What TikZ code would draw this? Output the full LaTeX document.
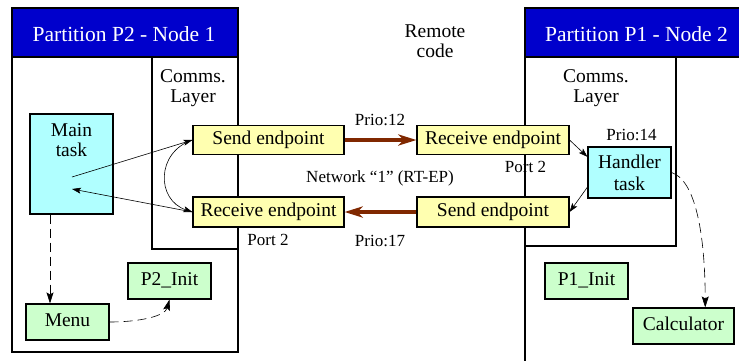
\documentclass[tikz,border=0pt]{standalone}
\usepackage{fontspec}
\setmainfont{Liberation Serif}
\usetikzlibrary{arrows.meta,calc}
\definecolor{hdrblue}{RGB}{0,0,204}
\definecolor{cyanfill}{RGB}{176,255,255}
\definecolor{yellowfill}{RGB}{255,255,176}
\definecolor{greenfill}{RGB}{204,255,204}
\definecolor{netbrown}{RGB}{128,40,0}
\begin{document}
\begin{tikzpicture}[x=1pt,y=-1pt,
  frame/.style={draw, line width=1.2pt},
  box/.style={draw, line width=1.1pt, inner sep=0pt, text height=12.5pt, text depth=4.5pt, font=\fontsize{19.5}{21}\selectfont},
  epbox/.style={box, fill=yellowfill, minimum width=151pt, minimum height=29pt},
  greenbox/.style={box, fill=greenfill, minimum height=36pt},
  cyanbox/.style={draw, line width=1.1pt, fill=cyanfill, inner sep=0pt, align=center, font=\fontsize{19.5}{22}\selectfont},
  small/.style={font=\fontsize{17}{19}\selectfont, inner sep=0pt, anchor=base},
  big/.style={font=\fontsize{19.5}{20}\selectfont, align=center, inner sep=0pt},
  hdr/.style={font=\fontsize{21.5}{23}\selectfont, text=white, inner sep=0pt, anchor=base},
  conn/.style={line width=0.6pt, -{Stealth[length=9pt,width=6pt,inset=2pt]}},
  dconn/.style={line width=0.6pt, dash pattern=on 9pt off 5pt, -{Stealth[length=11pt,width=7pt,inset=2pt]}},
  net/.style={line width=4pt, draw=netbrown, -{Stealth[length=18pt,width=11pt,inset=5pt]}}]
\useasboundingbox (0,0) rectangle (739,360);
\clip (0,0) rectangle (739,360);
% left partition
\draw[frame] (12,8) rectangle (238,352);
\draw[frame, fill=hdrblue] (12,8) rectangle (238,57);
\draw[frame] (152,57) rectangle (238,249);
\node[hdr] (hdrL) at (124,41.7) {Partition P2 - Node 1};
\node[big] (commsL) at (193,88) {Comms.\\Layer};
% right partition
\draw[frame] (525,8) rectangle (760,380);
\draw[frame, fill=hdrblue] (525,8) rectangle (760,57);
\draw[frame] (525,57) rectangle (676,246);
\node[hdr] (hdrR) at (636.5,41.7) {Partition P1 - Node 2};
\node[big] (commsR) at (596,88) {Comms.\\Layer};
% remote code
\node[big] (remote) at (435,41) {Remote\\code};
% boxes
\node[cyanbox, minimum width=83pt, minimum height=100pt] (main) at (71.5,164) {};
\node[big] (maintxt) at (71.5,140) {Main\\task};
\node[epbox] (sendL) at (268.5,140) {Send endpoint};
\node[epbox, minimum height=30pt] (recvL) at (268.5,212) {Receive endpoint};
\node[epbox, minimum width=152pt] (recvR) at (493,140) {Receive endpoint};
\node[epbox, minimum width=152pt, minimum height=30pt] (sendR) at (493,212) {Send endpoint};
\node[cyanbox, minimum width=83pt, minimum height=51pt] (handler) at (629.5,172.5) {Handler\\task};
\node[greenbox, minimum width=83pt] (menu) at (67.5,322) {Menu};
\node[greenbox, minimum width=83pt] (p2init) at (169.5,281) {P2\_Init};
\node[greenbox, minimum width=83pt] (p1init) at (586.5,281) {P1\_Init};
\node[greenbox, minimum width=101pt] (calc) at (683.5,326) {Calculator};
% small labels
\node[small] (prio12) at (380,125) {Prio:12};
\node[small] (network) at (380,182) {Network “1” (RT-EP)};
\node[small] (prio17) at (380,246) {Prio:17};
\node[small] (portL) at (268,245) {Port 2};
\node[small] (portR) at (525.5,172) {Port 2};
\node[small] (prio14) at (631.5,140) {Prio:14};
% connectors
\coordinate (mainout) at (72,177);
\coordinate (mainin) at (72,189);
\coordinate (mx) at (50,0);
\draw[conn] (mainout) -- (sendL.west);
\draw[conn] (recvL.west) -- (mainin);
\draw[conn] (sendL.west) .. controls (156,152) and (156,200) .. (recvL.west);
\draw[net] (sendL.east) -- (recvR.west);
\draw[net] (sendR.west) -- (recvL.east);
\draw[conn] (recvR.east) -- ($(handler.north west)!0.2!(handler.south west)$);
\draw[conn] ($(handler.north west)!0.78!(handler.south west)$) -- (sendR.east);
\draw[dconn] (main.south -| mx) -- (menu.north -| mx);
\draw[dconn] (menu.east) .. controls (140,322) and (165,316) .. (p2init.south);
\coordinate (calcin) at ($(calc.north west)!0.713!(calc.north east)$);
\draw[dconn, dash pattern=on 10pt off 5pt] (handler.east) .. controls (695,180) and (705,232) .. (calcin);
\end{tikzpicture}
\end{document}
